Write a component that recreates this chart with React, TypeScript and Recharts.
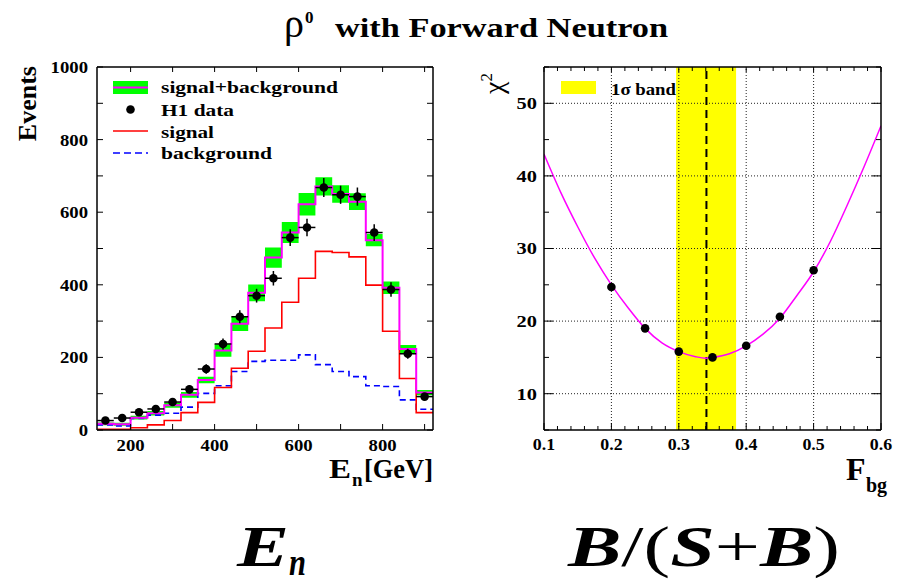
import React from 'react';
import { ComposedChart, Line, Area, Scatter, ErrorBar, XAxis, YAxis, ReferenceLine, ReferenceArea } from 'recharts';

// left panel: neutron energy spectrum, 40 GeV bins from 120 to 920 GeV
const binLow = [120, 160, 200, 240, 280, 320, 360, 400, 440, 480, 520, 560, 600, 640, 680, 720, 760, 800, 840, 880];
const binWidth = 40;
const sigBg = [17, 16, 34, 46, 68, 97, 138, 219, 293, 378, 475, 544, 622, 671, 650, 629, 523, 392, 223, 103];
const sigBgErr = [4, 4, 5, 6, 7, 8, 9, 17, 20, 23, 28, 29, 31, 25, 24, 23, 17, 17, 11, 7];
const signal = [2, 2, 6, 14, 26, 48, 76, 117, 170, 217, 281, 352, 418, 492, 489, 477, 399, 272, 142, 48];
const background = [14, 11, 32, 41, 46, 63, 101, 122, 161, 189, 192, 192, 207, 180, 161, 147, 122, 120, 83, 57];
const h1Data = [26, 33, 49, 58, 77, 112, 168, 237, 312, 370, 418, 530, 558, 668, 648, 643, 544, 387, 210, 92];
const h1Err = [5, 6, 7, 8, 9, 11, 13, 15, 18, 19, 20, 23, 24, 26, 25, 25, 23, 20, 14, 10];

const enLabels = [200, 400, 600, 800];
const eventLabels = [0, 200, 400, 600, 800, 1000];

// right panel: chi2 scan vs background fraction
const fbgScan = [0.2, 0.25, 0.3, 0.35, 0.4, 0.45, 0.5];
const chi2Scan = [24.7, 19.0, 15.8, 15.0, 16.6, 20.6, 27.0];
const fbgFit = [0.1, 0.125, 0.15, 0.175, 0.2, 0.225, 0.25, 0.275, 0.3, 0.325, 0.34, 0.35, 0.375, 0.4, 0.425, 0.45, 0.475, 0.5, 0.525, 0.55, 0.575, 0.6];
const chi2Fit = [43.0, 37.7, 33.0, 28.7, 25.0, 21.8, 19.0, 17.0, 15.8, 15.1, 14.9, 15.0, 15.5, 16.6, 18.2, 20.4, 23.5, 26.8, 31.0, 36.0, 41.3, 46.9];
const bandLo = 0.296;
const bandHi = 0.385;
const fbgBest = 0.341;

const fbgLabels = [0.1, 0.2, 0.3, 0.4, 0.5, 0.6];
const chiLabels = [10, 20, 30, 40, 50];

const range = (a: number, b: number, step: number) => {
  const out: number[] = [];
  for (let v = a; v <= b + step / 2; v += step) out.push(Math.round(v * 1000) / 1000);
  return out;
};

const enTicks = range(200, 900, 100);
const eventTicks = range(0, 1000, 100);
const fbgTicks = range(0.1, 0.6, 0.02);
const chiTicks = range(5, 55, 5);

// histogram rows at bin edges (last edge repeats the last bin for the step)
const histRows = binLow.map((e, i) => ({
  e,
  sb: sigBg[i],
  sig: signal[i],
  bg: background[i],
  band: [sigBg[i] - sigBgErr[i], sigBg[i] + sigBgErr[i]],
}));
histRows.push({ ...histRows[histRows.length - 1], e: binLow[binLow.length - 1] + binWidth });

const dataRows = binLow.map((e, i) => ({ e: e + binWidth / 2, v: h1Data[i], ex: binWidth / 2, ey: h1Err[i] }));
const fitRows = fbgFit.map((f, i) => ({ f, chi: chi2Fit[i] }));
const scanRows = fbgScan.map((f, i) => ({ f, chi: chi2Scan[i] }));

const FONT = "'Liberation Serif', 'Times New Roman', serif";

const has = (arr: number[], v: number) => arr.some((a) => Math.abs(a - v) < 1e-6);

type TickOpt = {
  side: 'bottom' | 'top' | 'left' | 'right';
  majors: number[];
  majorLen: number;
  minorLen: number;
  labels?: number[];
  fmt?: (v: number) => string;
  size?: number;
  sx?: number;
  gap?: number;
};

// draws the tick inward from the frame, ROOT style, plus an optional label
const tickFn = (o: TickOpt) => (p: any) => {
  const v = p.payload.value;
  const len = has(o.majors, v) ? o.majorLen : o.minorLen;
  const x = p.x;
  const y = p.y;
  let x2 = x;
  let y2 = y;
  if (o.side === 'bottom') y2 = y - len;
  if (o.side === 'top') y2 = y + len;
  if (o.side === 'left') x2 = x + len;
  if (o.side === 'right') x2 = x - len;
  const showLabel = o.labels && has(o.labels, v);
  let label = null;
  if (showLabel) {
    const tx = o.side === 'left' ? x - (o.gap ?? 8) : x;
    const ty = o.side === 'bottom' ? y + (o.gap ?? 20) : y;
    label = (
      <text
        transform={`translate(${tx},${ty}) scale(${o.sx ?? 1},1)`}
        textAnchor={o.side === 'left' ? 'end' : 'middle'}
        dy={o.side === 'left' ? '0.35em' : 0}
        fontSize={o.size ?? 16}
        fontWeight="bold"
        fontFamily={FONT}
        fill="#000"
      >
        {o.fmt ? o.fmt(v) : String(v)}
      </text>
    );
  }
  return (
    <g>
      <line x1={x} y1={y} x2={x2} y2={y2} stroke="#000" strokeWidth={1} />
      {label}
    </g>
  );
};

const T = (props: {
  x: number;
  y: number;
  size: number;
  sx?: number;
  anchor?: 'start' | 'middle' | 'end';
  bold?: boolean;
  italic?: boolean;
  len?: number;
  rot?: number;
  children: React.ReactNode;
}) => (
  <text
    transform={`translate(${props.x},${props.y})${props.rot ? ` rotate(${props.rot})` : ''} scale(${props.sx ?? 1},1)`}
    fontSize={props.size}
    fontWeight={props.bold === false ? 'normal' : 'bold'}
    fontStyle={props.italic ? 'italic' : 'normal'}
    fontFamily={FONT}
    textAnchor={props.anchor ?? 'start'}
    textLength={props.len}
    lengthAdjust={props.len ? 'spacingAndGlyphs' : undefined}
    fill="#000"
  >
    {props.children}
  </text>
);

const dot = (p: any) => <circle cx={p.cx} cy={p.cy} r={4.3} fill="#000" />;

const frame = { stroke: '#000', strokeWidth: 1.5 };

// axes are 1px thick so Recharts still draws them; frame line lands on the plot edge
const axisCommon = {
  interval: 0 as const,
  tickSize: 0,
  tickMargin: 0,
  tickLine: false,
  axisLine: frame,
  allowDataOverflow: true,
};

function EnergyPanel() {
  return (
    <ComposedChart width={450} height={500} data={histRows} margin={{ top: 66, right: 16, bottom: 69, left: 96 }}>
      <XAxis
        {...axisCommon}
        xAxisId="b"
        dataKey="e"
        type="number"
        domain={[120, 920]}
        ticks={enTicks}
        height={1}
        tick={tickFn({ side: 'bottom', majors: enTicks, majorLen: 6, minorLen: 6, labels: enLabels, size: 17, sx: 1.1, gap: 21 })}
      />
      <XAxis
        {...axisCommon}
        xAxisId="t"
        orientation="top"
        dataKey="e"
        type="number"
        domain={[120, 920]}
        ticks={enTicks}
        height={1}
        tick={tickFn({ side: 'top', majors: enTicks, majorLen: 5, minorLen: 5 })}
      />
      <YAxis
        {...axisCommon}
        yAxisId="l"
        type="number"
        domain={[0, 1000]}
        ticks={eventTicks}
        width={1}
        tick={tickFn({ side: 'left', majors: eventTicks, majorLen: 6, minorLen: 6, labels: eventLabels, size: 17, sx: 1.1, gap: 9 })}
      />
      <YAxis
        {...axisCommon}
        yAxisId="r"
        orientation="right"
        type="number"
        domain={[0, 1000]}
        ticks={eventTicks}
        width={1}
        tick={tickFn({ side: 'right', majors: eventTicks, majorLen: 6, minorLen: 6 })}
      />
      <Area
        xAxisId="b"
        yAxisId="l"
        type="stepAfter"
        dataKey="band"
        stroke="none"
        fill="#00ff00"
        fillOpacity={1}
        isAnimationActive={false}
        activeDot={false}
      />
      <Line xAxisId="b" yAxisId="l" type="stepAfter" dataKey="bg" stroke="#0000ff" strokeWidth={1.6} strokeDasharray="6 4" dot={false} activeDot={false} isAnimationActive={false} />
      <Line xAxisId="b" yAxisId="l" type="stepAfter" dataKey="sig" stroke="#ff0000" strokeWidth={1.6} dot={false} activeDot={false} isAnimationActive={false} />
      <Line xAxisId="b" yAxisId="l" type="stepAfter" dataKey="sb" stroke="#ff00ff" strokeWidth={2} dot={false} activeDot={false} isAnimationActive={false} />
      <Scatter xAxisId="b" yAxisId="l" data={dataRows} dataKey="v" shape={dot} isAnimationActive={false}>
        <ErrorBar dataKey="ey" direction="y" width={0} stroke="#000" strokeWidth={1.5} />
        <ErrorBar dataKey="ex" direction="x" width={0} stroke="#000" strokeWidth={1.5} />
      </Scatter>
    </ComposedChart>
  );
}

function Chi2Panel() {
  const fmt = (v: number) => v.toFixed(1);
  return (
    <ComposedChart width={447} height={500} margin={{ top: 66, right: 15, bottom: 69, left: 93 }}>
      <XAxis
        {...axisCommon}
        xAxisId="b"
        dataKey="f"
        type="number"
        domain={[0.1, 0.6]}
        ticks={fbgTicks}
        height={1}
        tick={tickFn({ side: 'bottom', majors: fbgLabels, majorLen: 7, minorLen: 4, labels: fbgLabels, fmt, size: 17, sx: 1.05, gap: 20 })}
      />
      <XAxis
        {...axisCommon}
        xAxisId="t"
        orientation="top"
        dataKey="f"
        type="number"
        domain={[0.1, 0.6]}
        ticks={fbgTicks}
        height={1}
        tick={tickFn({ side: 'top', majors: fbgLabels, majorLen: 5, minorLen: 4 })}
      />
      <YAxis
        {...axisCommon}
        yAxisId="l"
        type="number"
        domain={[5, 55]}
        ticks={chiTicks}
        width={1}
        tick={tickFn({ side: 'left', majors: chiLabels, majorLen: 9, minorLen: 5, labels: chiLabels, size: 17, sx: 1.2, gap: 7 })}
      />
      <YAxis
        {...axisCommon}
        yAxisId="r"
        orientation="right"
        type="number"
        domain={[5, 55]}
        ticks={chiTicks}
        width={1}
        tick={tickFn({ side: 'right', majors: chiLabels, majorLen: 9, minorLen: 5 })}
      />
      {chiLabels.map((c) => (
        <ReferenceLine key={'h' + c} xAxisId="b" yAxisId="l" y={c} stroke="#222" strokeWidth={1} strokeDasharray="1 2" />
      ))}
      <ReferenceArea xAxisId="b" yAxisId="l" x1={bandLo} x2={bandHi} fill="#ffff00" fillOpacity={1} stroke="none" />
      {fbgLabels.slice(1, -1).map((f) => (
        <ReferenceLine key={'v' + f} xAxisId="b" yAxisId="l" x={f} stroke="#222" strokeWidth={1} strokeDasharray="1 2" />
      ))}
      <ReferenceLine xAxisId="b" yAxisId="l" x={fbgBest} stroke="#000" strokeWidth={2} strokeDasharray="8 5" />
      <Line xAxisId="b" yAxisId="l" data={fitRows} type="monotone" dataKey="chi" stroke="#ff00ff" strokeWidth={1.5} dot={false} activeDot={false} isAnimationActive={false} />
      <Scatter xAxisId="b" yAxisId="l" data={scanRows} dataKey="chi" shape={dot} isAnimationActive={false} />
    </ComposedChart>
  );
}

function Overlay() {
  return (
    <svg width={897} height={588} style={{ position: 'absolute', left: 0, top: 0, pointerEvents: 'none' }}>
      {/* title */}
      <T x={284} y={37} size={40} bold={false}>ρ</T>
      <T x={305} y={23} size={17}>0</T>
      <T x={335} y={37} size={27} len={333}>with Forward Neutron</T>

      {/* left legend */}
      <rect x={113} y={81} width={35} height={13} fill="#00ff00" />
      <line x1={113} x2={148} y1={87.5} y2={87.5} stroke="#ff00ff" strokeWidth={2} />
      <circle cx={130.5} cy={109.5} r={4.3} fill="#000" />
      <line x1={113} x2={148} y1={131} y2={131} stroke="#ff0000" strokeWidth={1.6} />
      <line x1={113} x2={148} y1={153} y2={153} stroke="#0000ff" strokeWidth={1.6} strokeDasharray="7 4" />
      <T x={161} y={92.5} size={17.6} len={177}>signal+background</T>
      <T x={161} y={116} size={17.6} len={73}>H1 data</T>
      <T x={161} y={137.5} size={17.6} len={53}>signal</T>
      <T x={161} y={159} size={17.6} len={111}>background</T>

      {/* left axis titles */}
      <T x={36} y={66} size={26} rot={-90} anchor="end">Events</T>
      <T x={329} y={478} size={28} len={22}>E</T>
      <T x={352} y={486} size={19}>n</T>
      <T x={364} y={478} size={28} len={69}>[GeV]</T>

      {/* right legend */}
      <rect x={561} y={81} width={35} height={13} fill="#ffff00" />
      <T x={611} y={95} size={17.6} len={65}>1σ band</T>

      {/* right axis titles */}
      <text transform="translate(503,94) rotate(-90)" fontSize={28} fontFamily={FONT} fill="#000">
        χ<tspan fontSize={17} dy={-11}>2</tspan>
      </text>
      <T x={846} y={480} size={32}>F</T>
      <T x={866} y={492} size={20}>bg</T>

      {/* big formulas under the panels */}
      <T x={237} y={566} size={56} italic len={52}>E</T>
      <T x={289} y={575} size={38} italic len={17}>n</T>
      <text x={568} y={566} fontSize={56} fontFamily={FONT} textLength={272} lengthAdjust="spacingAndGlyphs" fill="#000">
        <tspan fontStyle="italic" fontWeight="bold">B</tspan>/(<tspan fontStyle="italic" fontWeight="bold">S</tspan>+<tspan fontStyle="italic" fontWeight="bold">B</tspan>)
      </text>
    </svg>
  );
}

export default function App() {
  return (
    <div style={{ position: 'relative', width: 897, height: 588, background: '#fff', fontFamily: FONT }}>
      <style>{'body{margin:0}'}</style>
      <div style={{ position: 'absolute', left: 0, top: 0 }}>
        <EnergyPanel />
      </div>
      <div style={{ position: 'absolute', left: 450, top: 0 }}>
        <Chi2Panel />
      </div>
      <Overlay />
    </div>
  );
}
